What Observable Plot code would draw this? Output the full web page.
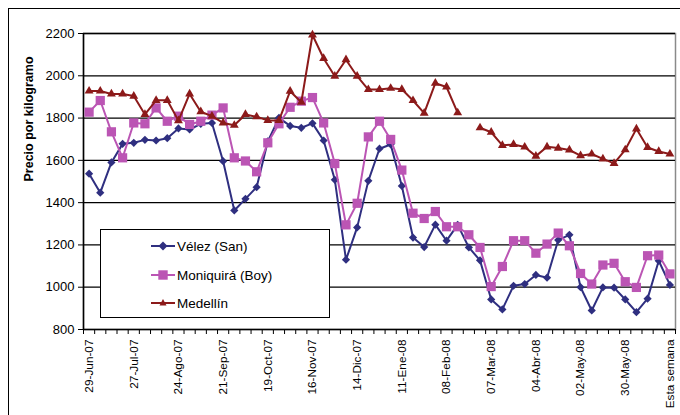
<!DOCTYPE html>
<html><head><meta charset="utf-8">
<script src="https://cdn.jsdelivr.net/npm/d3@7"></script>
<script src="https://cdn.jsdelivr.net/npm/@observablehq/plot@0.6"></script>
<style>
body{margin:0;background:#fff;font-family:"Liberation Sans",Arial,sans-serif;}
#wrap{position:relative;width:680px;height:415px;overflow:hidden;background:#fff;}
#border{position:absolute;left:8px;top:8px;width:700px;height:440px;border:1.5px solid #000;}
#chart{position:absolute;left:0;top:0;}
#legend{position:absolute;left:100px;top:229px;width:228px;height:87px;border:1px solid #000;background:#fff;}
.row{position:absolute;left:50px;height:20px;display:flex;align-items:center;font-size:13.5px;color:#000;}
.row svg{margin-right:2px;}
</style>
</head><body>
<div id="wrap"><div id="border"></div><div id="chart"></div><div id="legend"></div></div>
<script>
const tickLabels = ["29-Jun-07","27-Jul-07","24-Ago-07","21-Sep-07","19-Oct-07","16-Nov-07","14-Dic-07","11-Ene-08","08-Feb-08","07-Mar-08","04-Abr-08","02-May-08","30-May-08","Esta semana"];
const seriesNames = ["Vélez (San)","Moniquirá (Boy)","Medellín"];
const yTicks = [800,1000,1200,1400,1600,1800,2000,2200];
const velez = [1537,1447,1590,1678,1683,1697,1694,1705,1751,1746,1773,1777,1596,1363,1418,1473,1690,1801,1763,1754,1775,1694,1508,1130,1283,1503,1655,1675,1479,1235,1190,1296,1220,1295,1188,1127,942,895,1007,1015,1058,1045,1223,1248,1000,890,999,998,942,882,946,1125,1011];
const moniquira = [1828,1883,1735,1612,1777,1773,1848,1785,1809,1770,1785,1814,1848,1612,1597,1546,1683,1773,1851,1880,1897,1777,1585,1295,1397,1711,1785,1699,1554,1350,1325,1358,1286,1286,1248,1188,1003,1098,1220,1220,1161,1204,1256,1196,1065,1015,1105,1113,1026,999,1149,1152,1063];
const medellin = [1928,1928,1914,1914,1904,1817,1884,1884,1788,1914,1830,1809,1777,1766,1817,1806,1789,1789,1927,1875,2193,2082,1998,2076,1998,1935,1935,1941,1936,1883,1823,1965,1947,1825,null,1754,1733,1671,1675,1663,1620,1664,1658,1649,1622,1630,1607,1586,1650,1749,1661,1642,1630];

const colors = ["#2f2f80","#bb55b4","#8c1a1a"];
const symbols = ["diamond2","square","triangle"];
const radii = [3.7,5.2,3.3];
const allSeries = [velez, moniquira, medellin];
const nWeeks = velez.length;

const seriesMarks = allSeries.flatMap((vals, k) => {
  const data = vals.map((v, i) => ({i, v}));
  return [
    Plot.line(data, {x: "i", y: "v", stroke: colors[k], strokeWidth: 2}),
    Plot.dot(data.filter(d => d.v != null), {x: "i", y: "v", fill: colors[k], stroke: "none", symbol: symbols[k], r: radii[k]})
  ];
});

const labelIdx = tickLabels.map((_, k) => k * 4);
const betweenTicks = d3.range(nWeeks + 1).map(i => i - 0.5);

const chart = Plot.plot({
  width: 680, height: 415,
  marginLeft: 83, marginRight: 5, marginTop: 33, marginBottom: 86,
  style: {fontFamily: '"Liberation Sans", Arial, sans-serif', background: "transparent"},
  x: {type: "linear", domain: [-0.5, nWeeks - 0.5], axis: null},
  y: {domain: [800, 2200], axis: null},
  marks: [
    Plot.frame({stroke: "#8a8a8a", strokeWidth: 1.5}),
    Plot.ruleY(yTicks, {stroke: "#000", strokeWidth: 1.3}),
    Plot.ruleX([-0.5], {stroke: "#000", strokeWidth: 1.5}),
    Plot.axisY({ticks: yTicks, tickSize: 5, tickPadding: 4, tickFormat: d => String(d), fontSize: 13, label: null, stroke: "#000", color: "#000"}),
    Plot.axisX({ticks: betweenTicks, tickSize: 5, tickFormat: () => "", label: null, stroke: "#000"}),
    Plot.axisX({ticks: labelIdx, tickSize: 0, tickPadding: 10, tickRotate: -90, tickFormat: d => tickLabels[Math.round(d / 4)], fontSize: 11.8, label: null, color: "#000"}),
    Plot.text(["Precio por kilogramo"], {frameAnchor: "left", dx: -55, rotate: -90, fontWeight: "bold", fontSize: 12.5, fill: "#000"}),
    ...seriesMarks
  ]
});
document.getElementById("chart").appendChild(chart);

// legend
const legend = document.getElementById("legend");
const symPaths = {
  "diamond2": '<path d="M12,1.5L16.5,6L12,10.5L7.5,6Z"/>',
  "square": '<rect x="7.3" y="1.3" width="9.4" height="9.4"/>',
  "triangle": '<path d="M12,2L15.5,8.5L8.5,8.5Z"/>'
};
const rowTops = [6, 35, 63];
seriesNames.forEach((name, k) => {
  const row = document.createElement("div");
  row.className = "row";
  row.style.top = rowTops[k] + "px";
  row.innerHTML = `<svg width="24" height="12"><line x1="0" x2="24" y1="6" y2="6" stroke="${colors[k]}" stroke-width="2"/><g fill="${colors[k]}">${symPaths[symbols[k]]}</g></svg><span>${name}</span>`;
  legend.appendChild(row);
});
</script>
</body></html>
